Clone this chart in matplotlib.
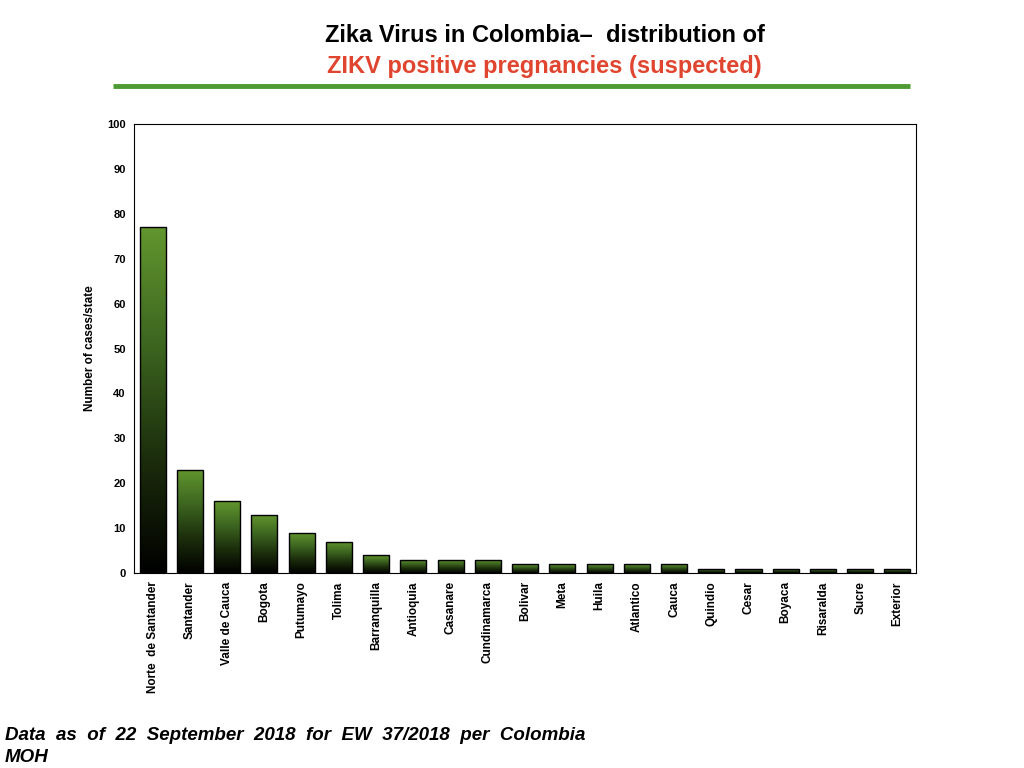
import matplotlib
matplotlib.use("Agg")
import matplotlib.pyplot as plt
import numpy as np
from matplotlib.colors import LinearSegmentedColormap
from matplotlib.lines import Line2D

states = ["Norte  de Santander", "Santander", "Valle de Cauca", "Bogota", "Putumayo",
          "Tolima", "Barranquilla", "Antioquia", "Casanare", "Cundinamarca", "Bolivar",
          "Meta", "Huila", "Atlantico", "Cauca", "Quindio", "Cesar", "Boyaca",
          "Risaralda", "Sucre", "Exterior"]
cases = [77, 23, 16, 13, 9, 7, 4, 3, 3, 3, 2, 2, 2, 2, 2, 1, 1, 1, 1, 1, 1]
yticks = list(range(0, 101, 10))

plt.rcParams['font.family'] = ['Liberation Sans', 'DejaVu Sans']

fig = plt.figure(figsize=(10.24, 7.68), dpi=100)
ax = fig.add_axes([0.1309, 0.2539, 0.7637, 0.5846])

x = np.arange(len(states))
bars = ax.bar(x, cases, width=0.7, color='none', edgecolor='black', linewidth=1.0, zorder=3)

cmap = LinearSegmentedColormap.from_list('g', ['#000000', '#1c2e0c', '#3d6620', '#62962e'])
grad = np.linspace(0, 1, 256).reshape(-1, 1)
for b in bars:
    x0, y0 = b.get_x(), b.get_y()
    w, h = b.get_width(), b.get_height()
    im = ax.imshow(grad, cmap=cmap, origin='lower', aspect='auto',
                   extent=[x0, x0 + w, y0, y0 + h], zorder=2, interpolation='bilinear')
    im.set_clip_path(b)

ax.set_xlim(-0.5, len(states) - 0.5)
ax.set_ylim(0, 100)
ax.set_yticks(yticks)
ax.set_yticklabels([str(v) for v in yticks], fontsize=8, fontweight='bold')
ax.set_xticks(x)
ax.set_xticklabels(states, rotation=90, fontsize=8.5, fontweight='bold')
ax.tick_params(length=0, pad=6)
ax.set_ylabel("Number of cases/state", fontsize=8.5, fontweight='bold', labelpad=8)
for s in ax.spines.values():
    s.set_linewidth(0.8)

fig.text(0.532, 1-35/768, "Zika Virus in Colombia\u2013  distribution of", ha='center', va='center',
         fontsize=17, fontweight='bold', color='black')
fig.text(0.532, 1-67/768, "ZIKV positive pregnancies (suspected)", ha='center', va='center',
         fontsize=17, fontweight='bold', color='#e0452f')
fig.add_artist(Line2D([113/1024, 910/1024], [1-86/768, 1-86/768], color='#4e9a33', linewidth=3.5,
                      solid_capstyle='butt', transform=fig.transFigure))

fig.text(0.005, 1-735/768, "Data  as  of  22  September  2018  for  EW  37/2018  per  Colombia", ha='left', va='center',
         fontsize=13.5, fontweight='bold', fontstyle='italic')
fig.text(0.005, 1-758/768, "MOH", ha='left', va='center',
         fontsize=13.5, fontweight='bold', fontstyle='italic')

fig.savefig("out.png", dpi=100)
